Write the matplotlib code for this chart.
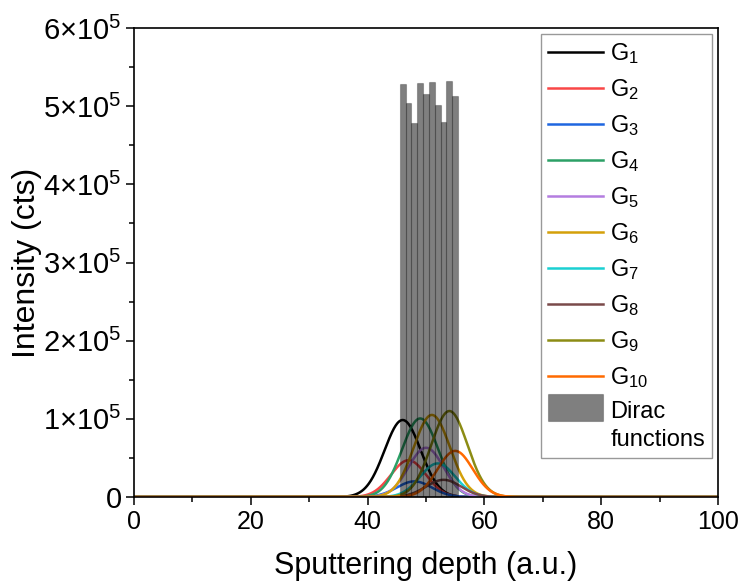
import numpy as np
import matplotlib
matplotlib.use('Agg')
import matplotlib.pyplot as plt
import matplotlib.patches as mpatches
from matplotlib.container import BarContainer
from matplotlib.legend_handler import HandlerPatch, update_from_first_child
from matplotlib.ticker import MultipleLocator, FuncFormatter

plt.rcParams['font.family'] = ['Liberation Sans', 'DejaVu Sans']
plt.rcParams['mathtext.fontset'] = 'custom'
plt.rcParams['mathtext.rm'] = 'Liberation Sans'
plt.rcParams['mathtext.it'] = 'Liberation Sans:italic'

# Dirac functions (bar positions and heights)
dirac_pos = [46, 47, 48, 49, 50, 51, 52, 53, 54, 55]
dirac_val = [5.29e5, 5.04e5, 4.79e5, 5.30e5, 5.15e5, 5.31e5, 5.02e5, 4.80e5, 5.32e5, 5.13e5]

# Gaussian components G1..G10
g_labels = ['G$_{1}$', 'G$_{2}$', 'G$_{3}$', 'G$_{4}$', 'G$_{5}$',
            'G$_{6}$', 'G$_{7}$', 'G$_{8}$', 'G$_{9}$', 'G$_{10}$']
g_center = [46, 47, 48, 49, 50, 51, 52, 53, 54, 55]
g_amp = [0.985e5, 0.47e5, 0.20e5, 1.005e5, 0.63e5, 1.05e5, 0.43e5, 0.22e5, 1.10e5, 0.59e5]
g_sigma = [3.1, 3.0, 3.0, 3.1, 3.0, 3.1, 3.0, 3.0, 3.1, 3.0]
g_colors = ['#000000', '#f94646', '#1f66e0', '#2ca066', '#b47de0',
            '#d4a00a', '#1ad0d2', '#7a4a4a', '#8c8c14', '#ff6a00']

fig = plt.figure(figsize=(7.42, 5.85), dpi=100)
ax = fig.add_axes([0.1806, 0.1504, 0.7871, 0.8017])

x = np.linspace(0, 100, 2001)
for lab, c, a, s, col in zip(g_labels, g_center, g_amp, g_sigma, g_colors):
    y = a * np.exp(-(x - c) ** 2 / (2 * s ** 2))
    ax.plot(x, y, color=col, lw=1.8, label=lab)

ax.bar(dirac_pos, dirac_val, width=1.0, facecolor=(0, 0, 0, 0.5),
       edgecolor=(0, 0, 0, 0.25), linewidth=0.8, label='Dirac\nfunctions', zorder=3)

ax.set_xlim(0, 100)
ax.set_ylim(0, 6e5)
ax.xaxis.set_major_locator(MultipleLocator(20))
ax.xaxis.set_minor_locator(MultipleLocator(10))
ax.yaxis.set_major_locator(MultipleLocator(1e5))
ax.yaxis.set_minor_locator(MultipleLocator(0.5e5))

def yfmt(v, pos):
    if v == 0:
        return '0'
    return r'%d$\times$10$^{5}$' % round(v / 1e5)

ax.yaxis.set_major_formatter(FuncFormatter(yfmt))
ax.tick_params(which='major', direction='out', length=6, width=1.1, labelsize=18)
ax.tick_params(axis='y', which='major', labelsize=21, pad=3)
ax.tick_params(which='minor', direction='out', length=3.5, width=1.1)
for sp in ax.spines.values():
    sp.set_linewidth(1.2)

ax.set_xlabel('Sputtering depth (a.u.)', fontsize=22, labelpad=12)
ax.set_ylabel('Intensity (cts)', fontsize=23, labelpad=1)


# taller patch sitting at the first line of the two-line label
def dirac_patch(legend, orig_handle, xdescent, ydescent, width, height, fontsize):
    h = 1.15 * fontsize
    return mpatches.Rectangle((-xdescent, -ydescent + height / 2 - h / 2 + 0.8 * fontsize),
                              width, h)


leg = ax.legend(loc='upper right', fontsize=17, frameon=True, fancybox=False,
                edgecolor='#808080', handlelength=2.35, handletextpad=0.3,
                labelspacing=0.47, borderaxespad=0.25, borderpad=0.3,
                handler_map={BarContainer: HandlerPatch(patch_func=dirac_patch,
                                                        update_func=update_from_first_child)})
leg.get_frame().set_linewidth(1.0)
leg.get_texts()[-1].set_linespacing(1.35)

fig.savefig('out.png', dpi=100)
